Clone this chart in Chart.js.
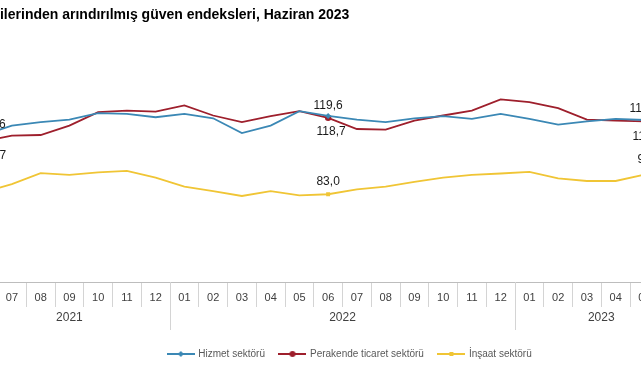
<!DOCTYPE html>
<html lang="tr">
<head>
<meta charset="UTF-8">
<title>Mevsim etkilerinden arındırılmış güven endeksleri, Haziran 2023</title>
<script src="https://cdn.jsdelivr.net/npm/chart.js@4"></script>
<style>
  html, body { margin: 0; padding: 0; background: #fff; overflow: hidden; width: 641px; height: 380px; }
  #wrap { position: absolute; left: -80px; top: 0; width: 860px; height: 380px; }
</style>
</head>
<body>
<div id="wrap"><canvas id="chart" width="860" height="380"></canvas></div>
<script>
// months shown on the axis, 06/2021 .. 06/2023
const months = ['06', '07', '08', '09', '10', '11', '12',
                '01', '02', '03', '04', '05', '06', '07', '08', '09', '10', '11', '12',
                '01', '02', '03', '04', '05', '06'];
const yearLabels = ['2021', '2022', '2023'];
const yearMonths = [7, 12, 6];

const hizmet    = [110.6, 115.1, 116.7, 117.9, 120.9, 120.6, 119.0, 120.6, 118.5, 111.6, 115.1, 121.8,
                   119.6, 117.9, 116.7, 118.5, 119.5, 118.2, 120.6, 118.2, 115.5, 117.1, 118.2, 117.7, 117.9];
const perakende = [107.7, 110.4, 110.7, 115.1, 121.4, 122.1, 121.6, 124.5, 119.8, 116.7, 119.5, 121.8,
                   118.7, 113.5, 113.2, 117.4, 119.8, 122.1, 127.3, 126.1, 123.2, 117.9, 117.4, 117.1, 116.6];
const insaat    = [83.9, 87.7, 92.9, 92.1, 93.2, 93.9, 90.8, 86.6, 84.5, 82.2, 84.5, 82.5,
                   83.0, 85.3, 86.6, 88.8, 90.8, 92.1, 92.7, 93.5, 90.4, 89.2, 89.2, 92.2, 92.9];

// points that get a marker and a value label
const labelled = [0, 12, 24];

const BLUE = '#3b88b5', RED = '#9e1f2c', YELLOW = '#f0c535';
const FONT = "'Liberation Sans', Arial, sans-serif";
Chart.defaults.font.family = FONT;

function radii(r) {
  return months.map((m, i) => labelled.includes(i) ? r : 0);
}

// small line+marker picture for the legend
function legendMark(color, style) {
  const c = document.createElement('canvas');
  c.width = 28; c.height = 8;
  const g = c.getContext('2d');
  g.strokeStyle = color; g.fillStyle = color; g.lineWidth = 2;
  g.beginPath(); g.moveTo(0, 4); g.lineTo(28, 4); g.stroke();
  g.beginPath();
  if (style === 'circle') g.arc(14, 4, 3, 0, 2 * Math.PI);
  else if (style === 'rectRot') { g.moveTo(14, 1); g.lineTo(17, 4); g.lineTo(14, 7); g.lineTo(11, 4); g.closePath(); }
  else g.rect(12, 2, 4, 4);
  g.fill();
  return c;
}
const marks = [legendMark(BLUE, 'rectRot'), legendMark(RED, 'circle'), legendMark(YELLOW, 'rect')];

const decor = {
  id: 'decor',
  afterDraw(chart) {
    const ctx = chart.ctx;
    const xs = chart.scales.x;
    const half = (xs.getPixelForValue(1) - xs.getPixelForValue(0)) / 2;
    const axisY = chart.chartArea.bottom;
    ctx.save();

    // year groups under the months
    ctx.font = '12px ' + FONT;
    ctx.fillStyle = '#404040';
    ctx.textAlign = 'center';
    ctx.textBaseline = 'middle';
    ctx.strokeStyle = '#d4d4d4';
    ctx.lineWidth = 1;
    let start = 0;
    yearLabels.forEach((yr, k) => {
      const end = start + yearMonths[k] - 1;
      const x0 = xs.getPixelForValue(start) - half;
      const x1 = xs.getPixelForValue(end) + half;
      [x0, x1].forEach(x => {
        ctx.beginPath();
        ctx.moveTo(Math.round(x) + 0.5, axisY);
        ctx.lineTo(Math.round(x) + 0.5, axisY + 48);
        ctx.stroke();
      });
      ctx.fillText(yr, (x0 + x1) / 2, axisY + 36);
      start = end + 1;
    });

    // value labels
    ctx.font = '12px ' + FONT;
    ctx.fillStyle = '#1a1a1a';
    chart.data.datasets.forEach((ds, di) => {
      const meta = chart.getDatasetMeta(di);
      labelled.forEach(i => {
        const p = meta.data[i];
        let dy = di === 1 ? 14 : (di === 0 ? -10.5 : -13);
        if (di === 2 && i === 0) dy = 14;
        let dx = di === 1 ? 3 : 0;
        if (i === 0) dx = di === 2 ? 3 : 8;
        if (i === months.length - 1) dx = [-29, -26, -24][di];
        ctx.fillText(ds.data[i].toFixed(1).replace('.', ','), p.x + dx, p.y + dy);
      });
    });
    ctx.restore();
  }
};

new Chart(document.getElementById('chart'), {
  type: 'line',
  data: {
    labels: months,
    datasets: [
      { label: 'Hizmet sektörü', data: hizmet, borderColor: BLUE, backgroundColor: BLUE,
        pointStyle: 'rectRot', pointRadius: radii(3) },
      { label: 'Perakende ticaret sektörü', data: perakende, borderColor: RED, backgroundColor: RED,
        pointStyle: 'circle', pointRadius: radii(3.2) },
      { label: 'İnşaat sektörü', data: insaat, borderColor: YELLOW, backgroundColor: YELLOW,
        pointStyle: 'rect', pointRadius: radii(2.8) }
    ]
  },
  options: {
    responsive: false,
    animation: false,
    events: [],
    elements: { line: { borderWidth: 1.8, tension: 0 }, point: { borderWidth: 0 } },
    layout: { padding: { left: 4.5, right: 4.5, top: 0, bottom: 11 } },
    scales: {
      x: {
        type: 'category',
        offset: true,
        grid: { display: true, drawOnChartArea: false, drawTicks: true, tickLength: 25, offset: true, color: '#d4d4d4' },
        border: { display: true, color: '#bdbdbd' },
        ticks: { autoSkip: false, maxRotation: 0, padding: -16, color: '#404040', font: { size: 11 } },
        afterFit(s) { s.height = 52; }
      },
      y: {
        position: 'left', min: 42, max: 142,
        ticks: { display: false }, grid: { display: false }, border: { display: false },
        afterFit(s) { s.width = 44.25; }
      },
      y2: {
        type: 'linear', position: 'right', min: 0, max: 1,
        ticks: { display: false }, grid: { display: false }, border: { display: false },
        afterFit(s) { s.width = 88; }
      }
    },
    plugins: {
      title: {
        display: true, align: 'start', color: '#000',
        text: 'Mevsim etkilerinden arındırılmış güven endeksleri, Haziran 2023',
        font: { size: 14, weight: 'bold' },
        padding: { top: 6.6, bottom: 44.6 }
      },
      legend: {
        position: 'bottom',
        labels: {
          usePointStyle: true, pointStyleWidth: 25, padding: 15,
          color: '#595959', font: { size: 10 },
          generateLabels(chart) {
            const items = Chart.defaults.plugins.legend.labels.generateLabels(chart);
            items.forEach((it, i) => { it.pointStyle = marks[i]; });
            return items;
          }
        }
      },
      tooltip: { enabled: false }
    }
  },
  plugins: [decor]
});
</script>
</body>
</html>
